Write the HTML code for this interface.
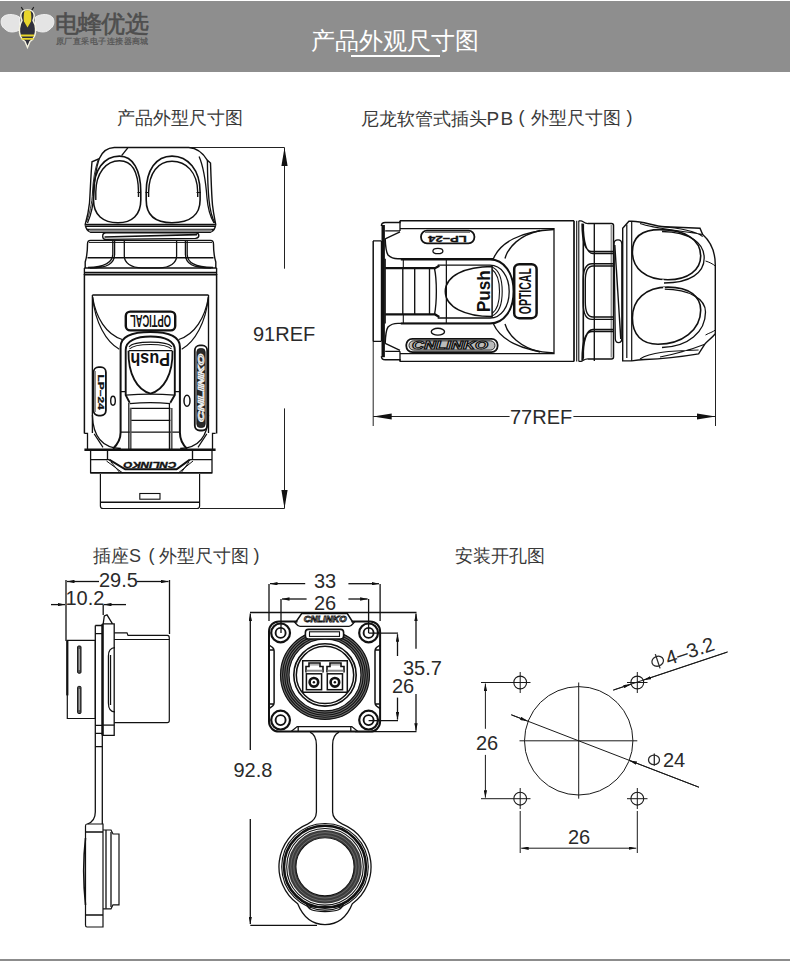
<!DOCTYPE html>
<html><head><meta charset="utf-8">
<style>
html,body{margin:0;padding:0;background:#fff;}
body{width:790px;height:961px;position:relative;overflow:hidden;font-family:"Liberation Sans",sans-serif;}
#hdr{position:absolute;left:0;top:1px;width:790px;height:71px;background:#8e8e8e;}
.t{position:absolute;white-space:nowrap;line-height:1;color:#3a3a3a;}
svg{position:absolute;left:0;top:0;}
</style></head>
<body>
<div id="hdr"></div>
<div class="t" style="left:54.5px;top:11.5px;font-size:24px;color:#4e4e4e;letter-spacing:-0.6px;-webkit-text-stroke:0.6px #4e4e4e">电蜂优选</div>
<div class="t" style="left:56px;top:37px;font-size:8.4px;color:#555;letter-spacing:0.45px;-webkit-text-stroke:0.25px #555;">原厂直采电子连接器商城</div>
<div class="t" style="left:311px;top:29px;font-size:24px;color:#fff;">产品外观尺寸图</div>
<div style="position:absolute;left:351px;top:55px;width:89px;height:2px;background:#fff"></div>
<svg width="60" height="50" viewBox="0 0 60 50" style="left:0;top:0">
<path d="M19.5,17C14,13.5 5,13.5 2,18C0,22 1.5,27 5,29C8,32.5 14,33 19.5,30Z" fill="#e4e4e4" stroke="#f4f4f4" stroke-width="0.9"/>
<path d="M35.5,17C41,13.5 50,13.5 53,18C55,22 53.5,27 50,29C47,32.5 41,33 35.5,30Z" fill="#e4e4e4" stroke="#f4f4f4" stroke-width="0.9"/>
<path d="M21.5,7.5L24,11.5M33.5,7.5L31,11.5" stroke="#222" stroke-width="1.3" stroke-linecap="round"/>
<path d="M27.5,47.5L25,41.5C20.5,38.5 19,33.5 19.5,28.5C19.8,24.5 21,22 22,20.5C20.5,17 20.5,13 23,11C25,9.5 30,9.5 32,11C34.5,13 34.5,17 33,20.5C34,22 35.3,24.5 35.5,28.5C36,33.5 34.5,38.5 30,41.5Z" fill="#30303c" stroke="#f6f4e0" stroke-width="1.4"/>
<path d="M24.5,11C26,10 29,10 30.5,11C31.5,14 31.5,19 31,21.5L27.5,27.5L24,21.5C23.5,19 23.5,14 24.5,11Z" fill="#e8d52c"/>
<path d="M21,34.5H34V36.5H21ZM21.5,38H33.5V39.8H21.5Z" fill="#e8d52c"/>
</svg>
<div class="t" style="left:117px;top:109px;font-size:18px;">产品外型尺寸图</div>
<div class="t" style="left:361px;top:109px;font-size:18px;">尼龙软管式插头<span style="font-size:19px;letter-spacing:1.4px;margin-left:-0.5px">PB</span></div>
<div class="t" style="left:518.5px;top:108px;font-size:18px;">(</div>
<div class="t" style="left:531px;top:109px;font-size:18px;">外型尺寸图</div>
<div class="t" style="left:626.5px;top:108px;font-size:18px;">)</div>
<div class="t" style="left:93px;top:547px;font-size:18px;">插座S</div>
<div class="t" style="left:148.5px;top:546px;font-size:18px;">(</div>
<div class="t" style="left:159px;top:547px;font-size:18px;">外型尺寸图</div>
<div class="t" style="left:253.5px;top:546px;font-size:18px;">)</div>
<div class="t" style="left:455px;top:547px;font-size:18px;">安装开孔图</div>

<svg width="790" height="961" viewBox="0 0 790 961" fill="none" stroke="#222" stroke-width="1">
<defs>
<marker id="ar" viewBox="0 0 7.5 3.4" refX="7.5" refY="1.7" markerWidth="7.5" markerHeight="3.4" orient="auto-start-reverse" markerUnits="userSpaceOnUse"><path d="M0,0L7.5,1.7L0,3.4z" fill="#111" stroke="none"/></marker>
<marker id="arL" viewBox="0 0 18.5 6.2" refX="18.5" refY="3.1" markerWidth="18.5" markerHeight="6.2" orient="auto-start-reverse" markerUnits="userSpaceOnUse"><path d="M0,0L18.5,3.1L0,6.2z" fill="#111" stroke="none"/></marker>
</defs>
<!-- bottom rule -->
<rect x="0" y="959" width="790" height="2" fill="#8c8c8c" stroke="none"/>

<!-- ===== DIM 91REF ===== -->
<g>
<path d="M190,147.5H284.5M200,508.5H284.5"/>
<path d="M284.5,268.7V147.5" marker-end="url(#arL)"/>
<path d="M284.5,408.4V508.5" marker-end="url(#arL)"/>
</g>

<!-- ===== DIM 77REF ===== -->
<path d="M373.2,341V426M715.5,290V426"/>
<path d="M509.6,416.5H373.2" marker-end="url(#arL)"/>
<path d="M573.4,416.5H715.5" marker-end="url(#arL)"/>


<!-- ===== DRAWING 1 (vertical plug) ===== -->
<g id="d1" stroke="#111" stroke-width="1.35">
<!-- cap outline -->
<path d="M114.3,147.5H188.7C197,148 203,153 207.4,160.3L210.5,163C211.2,180 211.5,195 212.5,205C213.5,214 215,220 215.7,224.4C215.5,228 213,231 210.5,232.2H90.5C88,231 85.5,228 85.2,224.4C86.5,220 88.5,213 89.5,203C90.4,190 90.8,175 92,161.8L99.2,158.7C102,152 107,147.8 114.3,147.5Z" stroke-width="1.4"/>
<path d="M121.6,155.6L127.8,147.8"/>
<!-- ribs -->
<path d="M99.2,158.7C96,168 94.5,180 94,192C93.5,205 91,215 87.5,223" stroke-width="1.3"/>
<path d="M98,160C95,169 93,180 92.5,192C92,204 89.5,214 86.5,222" stroke-width="0.9"/>
<path d="M199.1,156.6C204,168 206,185 207,198C208,210 211,218 214,223" stroke-width="1.3"/>
<path d="M207.4,160.3C207.5,175 208,190 209,200C210,210 212,218 215,223"/>
<!-- lobes -->
<path d="M119.5,156.1C133,156.1 140.8,170 140.8,192L140.8,200C140.8,215 132,222.7 118,222.7C103,222.7 93.5,215 93.5,200L93.5,192C93.5,170 104,156.1 119.5,156.1Z" stroke-width="1.6"/>
<path d="M95.8,200V192C96,173 106,160.8 119.5,160.8C132,160.8 138.3,172 138.5,192V197" stroke-width="1.4"/>
<path d="M172,156.1C188,156.1 200.1,170 200.1,192L200.1,200C200.1,215 190,222.7 172,222.7C155,222.7 146.2,215 146.2,200L146.2,192C146.2,170 156,156.1 172,156.1Z" stroke-width="1.6"/>
<path d="M148.6,197V192C149,173 158,161.3 172,161.3C186,161.3 197.5,172 197.7,192V197" stroke-width="1.4"/>
<path d="M137.5,192.5H141M196.5,192.5H201M145.5,192.5H149" stroke-width="1"/>
<!-- bands -->
<path d="M85.6,225.4H215.3" stroke="#888" stroke-width="2"/><path d="M85.2,224.4H215.7M85.6,226.4H215.3M87.5,229.4H213.5" stroke-width="1.1"/>
<path d="M89.5,230.8H211.5" stroke="#888" stroke-width="2.4"/>
<!-- spring -->
<path d="M106,232.8H195.5C197.5,232.8 198.8,234 198.8,235.8C198.8,237.6 197.5,238.2 195.5,238.4L106,239.4C104,239.4 102.7,238.2 102.7,236.2C102.7,234.2 104,232.8 106,232.8Z" stroke-width="1.4"/>
<path d="M104.5,237L197,234.6" stroke-width="1.7"/>
<!-- nut -->
<path d="M85.2,268V262C86.5,258 87.5,252 87.5,244C87.5,241.5 88.5,240.4 90.5,240.4H210.5C212.5,240.4 213.5,241.5 213.5,244C213.5,252 214.5,258 215.8,262V268" stroke-width="1.4"/>
<path d="M89,242.4H212" stroke-width="1"/>
<path d="M87.5,257.7H213.5"/>
<path d="M112.8,240.4V254C112.8,263 105,267 88,267.5M114.6,240.4V254C114.6,264 107,267.9 90,268" stroke-width="1.3"/>
<path d="M124.3,240.4V256C124.3,263 131,267.5 142,267.9H159C170,267.5 176.6,263 176.6,256V240.4" stroke-width="1.3"/>
<path d="M187.2,240.4V254C187.2,263 195,267 213,267.5M185.4,240.4V254C185.4,264 193,267.9 211,268" stroke-width="1.3"/>
<path d="M84.4,268H216.6M84.4,272.3H216.6" stroke-width="1.3"/>
<path d="M84.4,268V275M216.6,268V275"/>
<path d="M84.4,274.6H216.6" stroke-width="2"/>
<!-- body -->
<path d="M84.4,274V433.5M216.6,274V433.5" stroke-width="1.5"/>
<path d="M92.4,295H208.5M92.4,295V433M208.5,295V433"/>
<!-- U arc from panel -->
<path d="M92.5,297C96,318 106,334 122.2,339.5M208.5,297C205,318 195,334 178.8,339.5" stroke-width="1.3"/>
<path d="M92.6,297C95,322 106,342 119.3,349.2M208.4,297C206,322 195,342 181.7,349.2" stroke-width="1.2"/>
<!-- OPTICAL badge -->
<rect x="125.8" y="311.6" width="49.4" height="18.8" rx="4.5" stroke-width="2.4"/>
<text x="0" y="0" transform="translate(150.5,321) rotate(180)" dy="6" font-size="16.5" font-weight="bold" font-family="Liberation Sans" fill="#111" stroke="none" text-anchor="middle" textLength="41" lengthAdjust="spacingAndGlyphs">OPTICAL</text>
<!-- push button -->
<path d="M113,448.8C118,444 120.6,440 120.6,432.6V347C120.6,337 132,332.1 150.5,332.1C169,332.1 179.9,337 179.9,347V432.6C179.9,440 182,444 187,448.8" stroke-width="2"/>
<path d="M129.7,402.7L125.7,395.1V350C125.7,341 136,336.5 150.5,336.5C165,336.5 174.8,341 174.8,350V395.1L170.3,402.7" stroke-width="1.9"/>
<path d="M128.5,350.7C128,374 137,390 150.5,393.6C164,390 173,374 172.5,350.7" stroke-width="1.8"/>
<path d="M128.8,350.7H172.2" stroke-width="1.3"/>
<path d="M129.5,349C135,343 166,343 171.5,349M129,347C134,340.5 167,340.5 172,347" stroke-width="1.1"/>
<path d="M125.7,395.1Q150.5,393 174.8,395.1M129.7,403.7Q150.5,401.7 170.3,403.7M130,408.3H170.5M130,420.4H170.5M120.6,432.1H179.9M120.6,391.6H125.7M174.8,391.6H179.9" stroke-width="1.2"/>
<path d="M128.8,403V449M169.4,403V449" stroke-width="1.2"/>
<path d="M130.6,408V449M171.6,408V449" stroke="#555" stroke-width="2"/>
<text x="0" y="0" transform="translate(150.2,353.3) rotate(180)" font-size="18" font-weight="bold" font-family="Liberation Sans" fill="#111" stroke="none" text-anchor="middle" textLength="39.5" lengthAdjust="spacingAndGlyphs">Push</text>
<!-- LP-24 badge -->
<rect x="93.6" y="367.2" width="12.3" height="48.4" rx="5" stroke-width="1.8"/>
<path d="M95.2,371V412" stroke="#888" stroke-width="1.6"/>
<text x="0" y="0" transform="translate(98.3,392.1) rotate(90)" font-size="9.5" font-weight="bold" font-family="Liberation Sans" fill="#111" stroke="#111" stroke-width="0.3" text-anchor="middle" textLength="35" lengthAdjust="spacingAndGlyphs">LP–24</text>
<!-- CNLINKO badge -->
<rect x="194.8" y="345.4" width="12.4" height="85.1" rx="5" stroke-width="1.8"/>
<rect x="196.8" y="348.5" width="8.4" height="79" rx="3.5" fill="#2a2a2a" stroke-width="0.8"/>
<text x="0" y="0" transform="translate(204.3,388) rotate(-90)" font-size="9" font-weight="bold" font-style="italic" font-family="Liberation Sans" fill="none" stroke="#eee" stroke-width="0.9" text-anchor="middle" textLength="68" lengthAdjust="spacingAndGlyphs">CNLINKO</text>
<ellipse cx="113" cy="400.7" rx="2.3" ry="4.5" stroke-width="1.4"/>
<ellipse cx="187" cy="400.7" rx="3" ry="5.5" stroke-width="1.5"/>
<!-- lower body -->
<path d="M84.4,433.3H87.5V449.6M215.6,433.3H212.5V449.6" stroke-width="1.3"/>
<path d="M94.2,433.9L103,447.4M206.8,433.9L198,447.4" stroke-width="1.2"/>
<path d="M92.4,415C93,438 103,448 120.8,448.5M208.5,415C208,438 198,448 180.2,448.5" stroke-width="1.3"/>
<path d="M84.4,449.8H215.6" stroke-width="2.4"/>
<!-- flange -->
<path d="M90.6,449.8V472.8H212V449.8" stroke-width="1.3"/>
<path d="M90.6,459.6H109.2M189.9,459.6H212M107.5,449.8V459.6M192.5,449.8V459.6"/>
<path d="M109.2,459.6L125.2,469.3H176.6L189.9,459.6" stroke-width="2"/>
<path d="M106.5,461L122.5,472.8M111,462L120,472.8M193,461L178.5,472.8M189,462L181,472.8" stroke-width="1"/>
<path d="M90.6,472.8H212" stroke-width="1.6"/>
<text x="0" y="0" transform="translate(150,461.6) rotate(180)" font-size="9" font-weight="bold" font-style="italic" font-family="Liberation Sans" fill="#111" stroke="#111" stroke-width="0.4" text-anchor="middle" textLength="53" lengthAdjust="spacingAndGlyphs">CNLINKO</text>
<!-- bottom plug -->
<path d="M100.4,473.9V506C100.4,507.5 101.5,508.5 103,508.5H197C198.5,508.5 199.6,507.5 199.6,506V473.9" stroke-width="1.2"/>
<path d="M100.4,502.2H199.6"/>
<rect x="139.8" y="493.5" width="20.2" height="5.7" stroke-width="1.1"/>
</g>

<!-- ===== DRAWING 2 (horizontal plug PB) ===== -->
<g id="d2" stroke="#111" stroke-width="1.35">
<!-- plate -->
<path d="M373,240.9H381.4M373,341.3H381.4" stroke-width="1.3"/>
<path d="M373.2,240.9V341.3" stroke-width="1.5"/>
<!-- flange -->
<path d="M381.4,341.3V240.9" stroke-width="1.2"/>
<path d="M383.2,225V357.2" stroke-width="3.4"/>
<path d="M381.4,226C381.4,224 383,222.5 385.2,222.5H400V220.8M381.4,356.2C381.4,358.2 383,359.7 385.2,359.7H400V361.4" stroke-width="1.4"/>
<path d="M385.2,230.9H400M385.2,351.3H400M400,220.8V230.9M400,351.3V361.4" stroke-width="1.3"/>
<path d="M385.2,238.8L400,231.9M385.2,343.4L400,350.3" stroke-width="1.3"/>
<!-- body -->
<path d="M400,220.8H574M400,361.4H574" stroke-width="1.4"/>
<path d="M574,220.8V361.4" stroke-width="1.7"/><path d="M576.7,220.8V361.4M578.8,220.8V361.4" stroke-width="1.1"/><path d="M578.8,220.8H581C583,221 584,223.6 588,223.6M578.8,361.4H581C583,361 584,358.9 588,358.9" stroke-width="1.2"/>
<path d="M400,228.6H554V353.6H400" stroke-width="1.3"/>
<!-- panels -->
<path d="M385.2,238.8C385.5,247 386,252 388,255C391,258 394,258.8 398,258.8H494" stroke-width="1.4"/>
<path d="M385.2,343.4C385.5,335 386,330 388,327C391,324 394,323.4 398,323.4H494" stroke-width="1.4"/>
<path d="M385.2,268.2H435.1L439.3,265.7M385.2,314.4H435.1L439.3,316.9" stroke-width="2.3"/>
<path d="M385.2,258.8V323.4" stroke-width="1.3"/>
<path d="M402.8,268V315M414.7,268V315M429.5,268V315"/>
<path d="M434.4,268C437,280 437,302 434.4,315"/>
<path d="M403.3,258.8V268M403.3,315V323.4M446.3,258.8V323.4" stroke-width="1.1"/>
<!-- big arcs -->
<path d="M554,229.5C520,231 500,243 493.5,258.5M554,353C520,351 500,339 493.5,324"/>
<path d="M540,230.5C520,235 508,247 505,258.5M540,352C520,347 508,335 505,324"/>
<!-- push button -->
<path d="M400.8,259.5H490C504,259.5 513.6,273 513.6,291.5C513.6,310 504,323.5 490,323.5H400.8" stroke-width="2"/>
<path d="M437.7,265.2H490C501,265.2 509.2,276 509.2,291.5C509.2,307 501,318 490,318H437.7" stroke-width="1.3"/>
<path d="M446.5,265.2V318" stroke-width="1"/>
<path d="M492.1,266.5C465,266.5 445.3,276 445.3,291.5C445.3,307 465,316.5 492.1,316.5Z" stroke-width="1.5"/>
<path d="M492.1,267C499,270 502.2,280 502.2,291.5C502.2,303 499,313 492.1,316M492.1,269.5C497,273 499.5,282 499.5,291.5C499.5,301 497,310 492.1,313.5" stroke-width="1.1"/>
<text x="0" y="0" transform="translate(489.6,291.2) rotate(-90)" font-size="19" font-weight="bold" font-family="Liberation Sans" fill="#111" stroke="none" text-anchor="middle" textLength="42" lengthAdjust="spacingAndGlyphs">Push</text>
<!-- OPTICAL badge -->
<rect x="514.2" y="264.2" width="22.4" height="54" rx="5" stroke-width="2.5"/>
<text x="0" y="0" transform="translate(525.4,291.2) rotate(-90)" dy="6" font-size="16.5" font-weight="bold" font-family="Liberation Sans" fill="#111" stroke="none" text-anchor="middle" textLength="46" lengthAdjust="spacingAndGlyphs">OPTICAL</text>
<!-- LP-24 badge -->
<rect x="421" y="230.6" width="53.4" height="12.7" rx="6" stroke-width="1.8"/>
<path d="M425,232.2H470" stroke="#777" stroke-width="1.5"/>
<text x="0" y="0" transform="translate(447.4,235.5) rotate(180)" font-size="9.5" font-weight="bold" font-family="Liberation Sans" fill="#111" stroke="#111" stroke-width="0.35" text-anchor="middle" textLength="38.5" lengthAdjust="spacingAndGlyphs">LP–24</text>
<ellipse cx="437.9" cy="251" rx="5" ry="2.7" stroke-width="1.3"/>
<!-- CNLINKO badge -->
<rect x="406.3" y="338.8" width="91.3" height="13.3" rx="6" stroke-width="1.8"/>
<rect x="409" y="340.8" width="86" height="9.3" rx="4.5" stroke-width="0.9" fill="#bbb"/>
<text x="450" y="349" font-size="11" font-weight="bold" font-style="italic" font-family="Liberation Sans" fill="#f4f4f4" stroke="#111" stroke-width="1" text-anchor="middle" textLength="76" lengthAdjust="spacingAndGlyphs">CNLINKO</text>
<ellipse cx="437.9" cy="331.7" rx="6.6" ry="3.4" stroke-width="1.4"/>
<!-- nut -->
<path d="M588,223.6H611.5Q613.5,223.6 613.5,225.6V356.9Q613.5,358.9 611.5,358.9H588" stroke-width="1.5"/><path d="M583.3,224V358.5" stroke-width="1.6"/><path d="M611.2,225V357.5" stroke="#666" stroke-width="1"/>
<path d="M594.3,223.2V360.9"/>
<path d="M582,223.5C582,240 585,251.5 592,251.5H613.5M583,223.5C583.5,242 587,253.5 593,253.5H613.5"/>
<path d="M613.5,263.7H592C586,263.7 583.2,270 583.2,280V303C583.2,313 586,319.4 592,319.4H613.5M613.5,266H593C588,266 585.3,272 585.3,281V302C585.3,311 588,317 593,317H613.5"/>
<path d="M613.5,331.5H592C585,331.5 582,342 582,360.5M613.5,329.5H593C587,329.5 583,340 583,360"/>
<!-- spring -->
<path d="M618,239.9C620.5,239.9 621.8,241.5 621.8,244V338.5C621.8,341 620.5,342.6 618.5,342.6C616.5,342.6 615.5,341 615.3,339L614,244C614,241.5 615.5,239.9 618,239.9Z" stroke-width="1.3"/>
<path d="M614.8,245L620.8,339" stroke-width="1.4"/>
<!-- cap -->
<path d="M622.7,228.2L628.9,221.3H632C645,221.5 652,226 665,226.8L700,228.2L702.7,234.5C710,241 715.3,250 715.3,265V333.7C711,339 706,342 704.8,344.2L698.6,353.9C680,357 660,359 645,359.5C638,359.8 634,360.5 631.7,360.9H622.7Z" stroke-width="1.4"/>
<path d="M631.7,221.3V360.9M626.8,224.5V358" stroke-width="1.2"/>
<path d="M640,223.5C655,229 675,229.5 702.7,234.5M660,226.5C680,228 695,231 702.7,236.5" stroke-width="1.1"/>
<path d="M640,359C650,352 670,351 698.6,350M660,357C680,353 695,348 704.8,344.2" stroke-width="1.1"/>
<path d="M705.5,261C709,262 713,264 715.3,266M705.5,335C709,333 713,332 715.3,330" stroke-width="1"/>
<path d="M632.4,252C632.4,238 641,229.6 660,229.6C686,229.6 700.7,240 700.7,256C700.7,270 688,279.8 668,279.8C645,279.8 632.4,268 632.4,252Z" stroke-width="1.6"/>
<path d="M662,231.5C690,232 704.2,243 704.2,258C704.2,273 690,283 664,283" stroke-width="1.3"/>
<path d="M632.4,318C632.4,300 645,287.1 668,287.1C690,287.1 700.7,297 700.7,310C700.7,330 682,344.2 658,344.2C642,344.2 632.4,335 632.4,318Z" stroke-width="1.6"/>
<path d="M664,289.2C690,289.5 705.5,299 705.5,312C705.5,332 688,347 662,347.5" stroke-width="1.3"/>
<path d="M663,279.5V283.2M664,287V290.5" stroke="#fff" stroke-width="1.5"/>
</g>

<!-- ===== DRAWING 3a (socket side view) ===== -->
<g id="d3a" stroke="#111" stroke-width="1.3">
<!-- dims -->
<path d="M66,580V641M169.5,580V634"/>
<path d="M99,581.5H67" marker-end="url(#ar)"/>
<path d="M137,581.5H168.5" marker-end="url(#ar)"/>
<path d="M51,604.6H65" marker-end="url(#ar)"/>
<path d="M126,604.6H104" marker-end="url(#ar)"/>
<path d="M103.2,604.6V615"/>
<!-- rear body -->
<path d="M67.3,640.3H95.3V718.5H67.3Z" stroke-width="1.2"/>
<path d="M67.3,640.3V695.4" stroke-width="2.2"/>
<rect x="77.6" y="646" width="3.4" height="27.2" rx="1" fill="#555" stroke-width="1"/>
<path d="M79.3,649V670" stroke="#ddd" stroke-width="0.7"/>
<rect x="77.6" y="686.4" width="3.4" height="27.1" rx="1" fill="#555" stroke-width="1"/>
<path d="M79.3,689V710" stroke="#ddd" stroke-width="0.7"/>
<!-- flange panels -->
<path d="M95.3,625.5H102.3M95.3,625.5V812C95.3,818 93,822 87.5,824M102.3,625.5V824" stroke-width="1.3"/>
<path d="M95.3,633.7H102.3M95.3,725.4H102.3M95.3,733.4H102.3M95.3,746.6H102.3" stroke-width="1.3"/>
<path d="M102.3,623.9H114.2V735.3H102.3M103.2,623.9L104.3,616L107,614.8L112.5,623.9" stroke-width="1.3"/>
<path d="M102.3,725.1H114.2" stroke-width="1.3"/>
<path d="M102.6,623.9V735.3" stroke-width="2.4"/>
<!-- front body -->
<path d="M114.2,632.9H127L128,635.4H167.3C168.5,635.4 169.3,636.5 169.3,638V720.5C169.3,721.8 168.5,722.6 167.3,722.6H114.2" stroke-width="1.2"/>
<path d="M114.2,639.5H169.3" stroke-width="1.1"/>
<path d="M115,647.7C110,648 108.4,652 108.4,656V703C108.4,708 110,711.9 115,711.9" stroke-width="1.2"/>
<path d="M110.5,655V705"/>
<!-- lanyard strip -->

<path d="M87,824H103V927H87C86,927 85.5,926 85.5,925V826C85.5,825 86,824 87,824Z" stroke-width="1.2"/>
<path d="M85.5,832H103M85.5,915H103"/>
<path d="M103,830H111L113,834H119V904.8H113L111,908.8H103" stroke-width="1.2"/>
<path d="M106,830V908.8M111,832V907"/>
<path d="M85.5,838C83,860 83,880 85.5,905" stroke-width="1.6"/>
</g>

<!-- ===== DRAWING 3b (socket front view) ===== -->
<g id="d3b" stroke="#111" stroke-width="1.3">
<!-- dims -->
<path d="M269,584V621M380.1,584V621M281,599V633M368.6,599V633"/>
<path d="M305.2,583.7H270" marker-end="url(#ar)"/>
<path d="M348.4,583.7H379" marker-end="url(#ar)"/>
<path d="M306.6,599H282" marker-end="url(#ar)"/>
<path d="M348.4,599H367.6" marker-end="url(#ar)"/>
<path d="M250,612.5H416.5M355,731.6H416.5M368.6,633.2H398M368.6,720.6H398"/>
<path d="M416,648.8V613.5" marker-end="url(#ar)"/>
<path d="M416,693.9V730.8" marker-end="url(#ar)"/>
<path d="M397.5,656V634.2" marker-end="url(#ar)"/>
<path d="M397.5,697.6V719.6" marker-end="url(#ar)"/>
<path d="M250.3,750V613.5" marker-end="url(#ar)"/>
<path d="M250.3,819V924" marker-end="url(#ar)"/>
<path d="M250.3,925.3H317"/>
<!-- flange -->
<rect x="269" y="621.4" width="111.1" height="110.2" rx="10" stroke-width="2"/>
<rect x="297.5" y="619" width="54" height="5.5" fill="#fff" stroke="none"/>
<path d="M295.5,622.5L301.7,613.6H347.3L353,622.5" stroke-width="1.5"/><path d="M294,621.5C296,623 297,626.3 300,626.3H349C352,626.3 353,623 355,621.5" stroke-width="1.3"/>

<text x="325.2" y="622.4" font-size="9.5" font-weight="bold" font-style="italic" font-family="Liberation Sans" fill="#eee" stroke="#111" stroke-width="0.9" text-anchor="middle" textLength="43" lengthAdjust="spacingAndGlyphs">CNLINKO</text>
<!-- side slots -->
<path d="M269,645L272.6,647.5Q274.1,649 274.1,651V702.7Q274.1,704.5 272.6,706L269,708.7M269.5,650.1H274.1M269.5,704H274.1" stroke-width="1.5"/>
<path d="M380.1,645L376.5,647.5Q375,649 375,651V702.7Q375,704.5 376.5,706L380.1,708.7M375,650.1H379.6M375,704H379.6" stroke-width="1.5"/>
<!-- bottom tab -->
<path d="M291.1,731.6L297.2,726.6H351.8L357.9,731.6M298.2,727V731.3M350.8,727V731.3" stroke-width="1.3"/>
<!-- corner holes -->
<g stroke-width="2.2">
<circle cx="280.6" cy="632.9" r="9.4"/><circle cx="368.6" cy="632.9" r="9.4"/>
<circle cx="280.6" cy="720.1" r="9.4"/><circle cx="368.6" cy="720.1" r="9.4"/>
</g>
<g stroke-width="1.9">
<circle cx="280.6" cy="632.9" r="5"/><circle cx="368.6" cy="632.9" r="5"/>
<circle cx="280.6" cy="720.1" r="5"/><circle cx="368.6" cy="720.1" r="5"/>
</g>
<!-- central rings -->
<circle cx="325" cy="674.9" r="40.2" stroke="#6a6a6a" stroke-width="8.8"/>
<g stroke-width="1.1">
<circle cx="325" cy="674.9" r="44.5"/>
<circle cx="325" cy="674.9" r="42.4"/>
<circle cx="325" cy="674.9" r="40.3"/>
<circle cx="325" cy="674.9" r="38.2"/>
<circle cx="325" cy="674.9" r="36"/>
</g>
<circle cx="325" cy="674.9" r="31.2" stroke-width="1.6"/>
<circle cx="325" cy="674.9" r="28.7" stroke-width="1.5"/>
<!-- latch -->
<rect x="305.4" y="629.4" width="38.2" height="9.6" rx="3" fill="#fff" stroke-width="1.6"/>
<rect x="309.5" y="631.8" width="30" height="4.6" fill="#fff" stroke-width="1.1"/>
<!-- LC adapters -->
<path d="M302.7,692.2V660.7H347.3V692.2Z" stroke-width="1.5"/>
<path d="M306,672.5V666.5H309V663H320V666.5H323V672.5M327,672.5V666.5H330V663H341V666.5H344V672.5" stroke-width="1.6"/>
<path d="M306.5,670.8H322.5M327.5,670.8H343.5" stroke="#888" stroke-width="2"/>
<path d="M310,664.8H319M331,664.8H340" stroke="#999" stroke-width="1.3"/>
<rect x="306.4" y="673.8" width="15.2" height="15.9" stroke-width="1.5"/>
<rect x="327.3" y="673.8" width="15.2" height="15.9" stroke-width="1.5"/>
<circle cx="313.9" cy="682.3" r="4.3" stroke-width="2.6"/>
<circle cx="334.9" cy="682.3" r="4.3" stroke-width="2.6"/>
<circle cx="313.9" cy="682.3" r="1.2" fill="#111" stroke="none"/>
<circle cx="334.9" cy="682.3" r="1.2" fill="#111" stroke="none"/>
<!-- lanyard -->
<path d="M310,732.2C314,734 316.4,738 316.4,745V812C316.4,818 313,821.5 307.5,824.2A46,46 0 0 0 297.7,903.8C301,912 308,924.6 325,924.6C342,924.6 349,912 352.3,903.8A46,46 0 0 0 342.5,824.2C337,821.5 332.6,818 332.6,812V745C332.6,738 335,734 339,732.2" stroke-width="1.3"/>
<circle cx="325" cy="866.8" r="43.3" stroke-width="1.1"/>
<circle cx="325" cy="866.8" r="41" stroke="#111" stroke-width="2.6"/>
<circle cx="325" cy="866.8" r="38.3" stroke-width="1.1"/>
<circle cx="325" cy="866.8" r="33" stroke="#3c3c3c" stroke-width="7.6"/>
<circle cx="325" cy="866.8" r="31.2" stroke="#999" stroke-width="0.5"/>
<circle cx="325" cy="866.8" r="34.2" stroke="#999" stroke-width="0.5"/>
<circle cx="325" cy="866.8" r="29.1" stroke-width="1.1"/>
<path d="M306.5,903.5C308,909.5 312,911.5 325,911.5C338,911.5 342,909.5 343.5,903.5M309.5,906.5H340.5" stroke-width="1.3"/>
</g>

<!-- ===== DRAWING 4 (mounting holes) ===== -->
<g id="d4" stroke="#1a1a1a" stroke-width="1">
<circle cx="578.7" cy="740.8" r="54.2"/>
<path d="M519.5,740.8H637.3M578.7,682.5V798.7"/>
<g stroke-width="1.1">
<circle cx="520.2" cy="682.5" r="6.4"/><circle cx="637.3" cy="682.5" r="6.4"/>
<circle cx="520.2" cy="798.7" r="6.4"/><circle cx="637.3" cy="798.7" r="6.4"/>
</g>
<path d="M510,682.5H530.5M520.2,672V693M627,682.5H647.5M637.3,672V693M510,798.7H530.5M520.2,788V809M627,798.7H647.5M637.3,788V809"/>
<path d="M481,682.5H510M481,798.7H510"/>
<path d="M485.4,728.8V683.5" marker-end="url(#ar)"/>
<path d="M485.4,754.9V797.7" marker-end="url(#ar)"/>
<path d="M520.2,811V853M637.3,811V853"/>
<path d="M578,848.2H521.2" marker-end="url(#ar)"/>
<path d="M578,848.2H636.3" marker-end="url(#ar)"/>
<path d="M511.3,714.8L698.9,787.2"/>
<path d="M511.3,714.8L527.6,721.1" marker-end="url(#ar)"/>
<path d="M698.9,787.2L629.4,760.5" marker-end="url(#ar)"/>
<path d="M613.3,690.1L727.5,652"/>
<path d="M613.3,690.1L630.9,684.2" marker-end="url(#ar)"/>
<path d="M727.5,652L643.7,680" marker-end="url(#ar)"/>
</g>
<!-- DIMTEXT -->
<g font-family="Liberation Sans" font-size="20" fill="#2a2a2a" stroke="none">
<text x="253" y="341">91REF</text>
<text x="510" y="424">77REF</text>
<text x="403" y="675">35.7</text>
<text x="392" y="692.5">26</text>
<text x="314" y="587.5">33</text>
<text x="314" y="609.8">26</text>
<text x="233.5" y="776.5">92.8</text>
<text x="99" y="587">29.5</text>
<text x="65.5" y="605">10.2</text>
<text x="476" y="750">26</text>
<text x="568" y="843.5">26</text>
<text x="663" y="766.8">24</text>
<g fill="none" stroke="#2a2a2a" stroke-width="1.3"><ellipse cx="654" cy="759.9" rx="5.5" ry="4.7"/><path d="M654.3,753.6V765.8"/></g>
<g transform="translate(654.5,670) rotate(-18.4)"><text x="14.5" y="0">4–3.2</text><g fill="none" stroke="#2a2a2a" stroke-width="1.3"><ellipse cx="5.8" cy="-7.3" rx="5.9" ry="4.9"/><path d="M5.8,-14.8V0.2"/></g></g>
</g>
<!-- /DIMTEXT -->
</svg>
</body></html>
